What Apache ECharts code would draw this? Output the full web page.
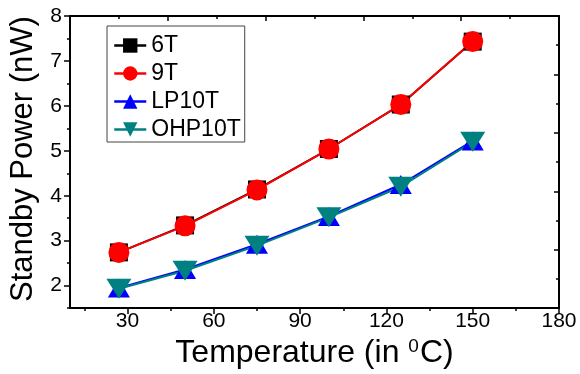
<!DOCTYPE html>
<html>
<head>
<meta charset="utf-8">
<script src="https://cdn.jsdelivr.net/npm/echarts@6/dist/echarts.min.js"></script>
<style>
html,body{margin:0;padding:0;background:#fff;}
#chart{width:580px;height:374px;}
</style>
</head>
<body>
<div id="chart"></div>
<script>
const temperatures = [27, 50, 75, 100, 125, 150];
const power6T     = [2.74, 3.34, 4.14, 5.04, 6.03, 7.43];
const power9T     = [2.74, 3.33, 4.13, 5.04, 6.03, 7.43];
const powerLP10T  = [1.95, 2.36, 2.92, 3.54, 4.25, 5.22];
const powerOHP10T = [1.93, 2.33, 2.89, 3.52, 4.20, 5.20];
const xMajorTicks = [30, 60, 90, 120, 150, 180];
const xMinorTicks = [15, 45, 75, 105, 135, 165];
const yMajorTicks = [2, 3, 4, 5, 6, 7, 8];
const yMinorTicks = [1.5, 2.5, 3.5, 4.5, 5.5, 6.5, 7.5];

const FONT = "'Liberation Sans', Arial, sans-serif";
const pairs = (ys) => temperatures.map((x, i) => [x, ys[i]]);

const chart = echarts.init(document.getElementById('chart'), null, {renderer: 'canvas'});
const axisLine = {show: true, onZero: false, lineStyle: {color: '#000', width: 2}};

chart.setOption({
  animation: false,
  backgroundColor: '#fff',
  textStyle: {fontFamily: FONT},
  grid: {left: 70, right: 21, top: 16, bottom: 64, containLabel: false},
  legend: {
    orient: 'vertical',
    left: 107, top: 26,
    padding: [8, 4, 1, 6],
    itemGap: 5,
    itemWidth: 32, itemHeight: 18,
    borderColor: '#444', borderWidth: 1,
    backgroundColor: '#fff',
    lineStyle: {width: 2.5},
    textStyle: {fontSize: 23, color: '#000', fontFamily: FONT, lineHeight: 23},
    data: ['6T', '9T', 'LP10T', 'OHP10T']
  },
  xAxis: [
    {
      type: 'value', min: 10, max: 180, position: 'bottom',
      axisLine: axisLine,
      axisTick: {show: true, inside: false, length: 6, customValues: xMajorTicks, lineStyle: {color: '#000', width: 1.5}},
      axisLabel: {customValues: xMajorTicks, fontSize: 21, color: '#000', fontFamily: FONT, margin: 3},
      splitLine: {show: false},
      name: 'Temperature (in {sup|0}C)',
      nameLocation: 'middle', nameGap: 28,
      nameTextStyle: {fontSize: 32, color: '#000', fontFamily: FONT,
        rich: {sup: {fontSize: 19, color: '#000', fontFamily: FONT, verticalAlign: 'top', padding: [0, 1, 12, 0]}}}
    },
    {
      type: 'value', min: 10, max: 180, position: 'bottom',
      axisLine: {show: false, onZero: false},
      axisTick: {show: true, inside: false, length: 3, customValues: xMinorTicks, lineStyle: {color: '#000', width: 1.5}},
      axisLabel: {show: false},
      splitLine: {show: false}
    },
    {
      type: 'value', min: 0, max: 10, interval: 2, position: 'top',
      axisLine: axisLine,
      axisTick: {show: true, inside: true, length: 5, lineStyle: {color: '#000', width: 1.5}},
      minorTick: {show: true, splitNumber: 2, length: 3, lineStyle: {color: '#000', width: 1.5}},
      axisLabel: {show: false},
      splitLine: {show: false}
    }
  ],
  yAxis: [
    {
      type: 'value', min: 1.5, max: 8, position: 'left',
      axisLine: axisLine,
      axisTick: {show: true, inside: false, length: 6, customValues: yMajorTicks, lineStyle: {color: '#000', width: 1.5}},
      axisLabel: {customValues: yMajorTicks, fontSize: 21, color: '#000', fontFamily: FONT, margin: 8},
      splitLine: {show: false},
      name: 'Standby Power (nW)',
      nameLocation: 'middle', nameGap: 30,
      nameTextStyle: {fontSize: 31, color: '#000', fontFamily: FONT, padding: [0, 0, 0, 6]}
    },
    {
      type: 'value', min: 1.5, max: 8, position: 'left',
      axisLine: {show: false, onZero: false},
      axisTick: {show: true, inside: false, length: 3, customValues: yMinorTicks, lineStyle: {color: '#000', width: 1.5}},
      axisLabel: {show: false},
      splitLine: {show: false}
    },
    {
      type: 'value', min: 0, max: 10, interval: 2, position: 'right',
      axisLine: axisLine,
      axisTick: {show: true, inside: true, length: 5, lineStyle: {color: '#000', width: 1.5}},
      minorTick: {show: true, splitNumber: 2, length: 3, lineStyle: {color: '#000', width: 1.5}},
      axisLabel: {show: false},
      splitLine: {show: false}
    }
  ],
  series: [
    {name: '6T', type: 'line', data: pairs(power6T), symbol: 'rect', symbolSize: 18,
     itemStyle: {color: '#000'}, lineStyle: {color: '#000', width: 2}},
    {name: '9T', type: 'line', data: pairs(power9T), symbol: 'circle', symbolSize: 21,
     itemStyle: {color: '#ff0000'}, lineStyle: {color: '#ff0000', width: 2}},
    {name: 'LP10T', type: 'line', data: pairs(powerLP10T), symbol: 'triangle', symbolSize: [22, 19],
     itemStyle: {color: '#0000ff'}, lineStyle: {color: '#0000ff', width: 2}},
    {name: 'OHP10T', type: 'line', data: pairs(powerOHP10T), symbol: 'triangle', symbolSize: [25, 20], symbolRotate: 180,
     itemStyle: {color: '#008080'}, lineStyle: {color: '#008080', width: 2}}
  ]
});
</script>
</body>
</html>
